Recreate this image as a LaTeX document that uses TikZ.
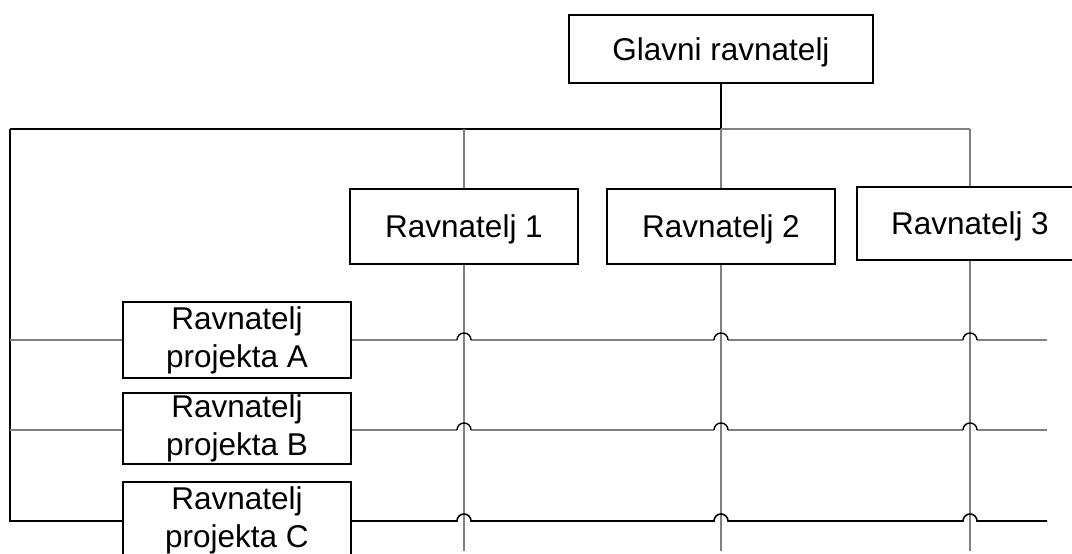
\documentclass[tikz,border=0pt]{standalone}
\usepackage{fontspec}
\setmainfont{Liberation Sans}
\definecolor{linkgray}{HTML}{808080}
\begin{document}
\begin{tikzpicture}[x=1pt,y=1pt,
  box/.style={draw=black, line width=2pt, fill=white, inner sep=0pt,
    font=\fontsize{31.5}{38}\selectfont, align=center},
  single/.style={text height=22.6pt, text depth=0pt},
  link/.style={draw=linkgray, line width=1.6pt},
  trunk/.style={draw=black, line width=1.6pt},
  hop/.style={draw=black, line width=1.4pt}]
\path[use as bounding box, clip] (0,0) rectangle (1072,554);

% organisation boxes
\node[box,single,minimum width=304pt,minimum height=68pt] (gr) at (721,505) {Glavni ravnatelj};
\node[box,single,minimum width=228pt,minimum height=75pt] (r1) at (464,327.5) {Ravnatelj 1};
\node[box,single,minimum width=228pt,minimum height=75pt] (r2) at (721,327.5) {Ravnatelj 2};
\node[box,single,minimum width=226pt,minimum height=73pt] (r3) at (970,330.5) {Ravnatelj 3};
\node[box,minimum width=228pt,minimum height=76pt] (pa) at (237,214) {Ravnatelj\\projekta A};
\node[box,minimum width=228pt,minimum height=71pt] (pb) at (237,125.5) {Ravnatelj\\projekta B};
\node[box,minimum width=228pt,minimum height=76pt] (pc) at (237,34) {Ravnatelj\\projekta C};

% junction points of the line network
\coordinate (j)  at (721,425);
\coordinate (tl) at (10,425);
\coordinate (tr) at (970,425);
\coordinate (c1) at (464,425);
\coordinate (b1) at (464,3);
\coordinate (b2) at (721,3);
\coordinate (b3) at (970,3);
\coordinate (la) at (10,214);
\coordinate (lb) at (10,124);
\coordinate (lc) at (10,33);
\coordinate (ea) at (1047,214);
\coordinate (eb) at (1047,124);
\coordinate (ec) at (1047,33);

% line manager hierarchy
\draw[trunk, line width=2pt] (gr.south) -- (j);
\draw[trunk, line width=2pt] (j) -- (tl);
\draw[trunk] (tl) -- (lc) -- (pc.west |- lc);
\draw[link] (j) -- (tr);
\draw[link] (c1) -- (r1.north);
\draw[link] (j) -- (r2.north);
\draw[link] (tr) -- (r3.north);
\draw[link] (r1.south) -- (b1);
\draw[link] (r2.south) -- (b2);
\draw[link] (r3.south) -- (b3);
\draw[link] (la) -- (pa.west |- la);
\draw[link] (lb) -- (pb.west |- lb);

% project rows hopping over the vertical lines
\draw[link] (pa.east |- la) -- (457,214) (471,214) -- (714,214) (728,214) -- (963,214) (977,214) -- (ea);
\draw[hop] (457,214) arc[start angle=180,end angle=0,radius=7]
           (714,214) arc[start angle=180,end angle=0,radius=7]
           (963,214) arc[start angle=180,end angle=0,radius=7];
\draw[link] (pb.east |- lb) -- (457,124) (471,124) -- (714,124) (728,124) -- (963,124) (977,124) -- (eb);
\draw[hop] (457,124) arc[start angle=180,end angle=0,radius=7]
           (714,124) arc[start angle=180,end angle=0,radius=7]
           (963,124) arc[start angle=180,end angle=0,radius=7];
\draw[trunk] (pc.east |- lc) -- (457,33) arc[start angle=180,end angle=0,radius=7]
  -- (714,33) arc[start angle=180,end angle=0,radius=7]
  -- (963,33) arc[start angle=180,end angle=0,radius=7] -- (ec);
\end{tikzpicture}
\end{document}
